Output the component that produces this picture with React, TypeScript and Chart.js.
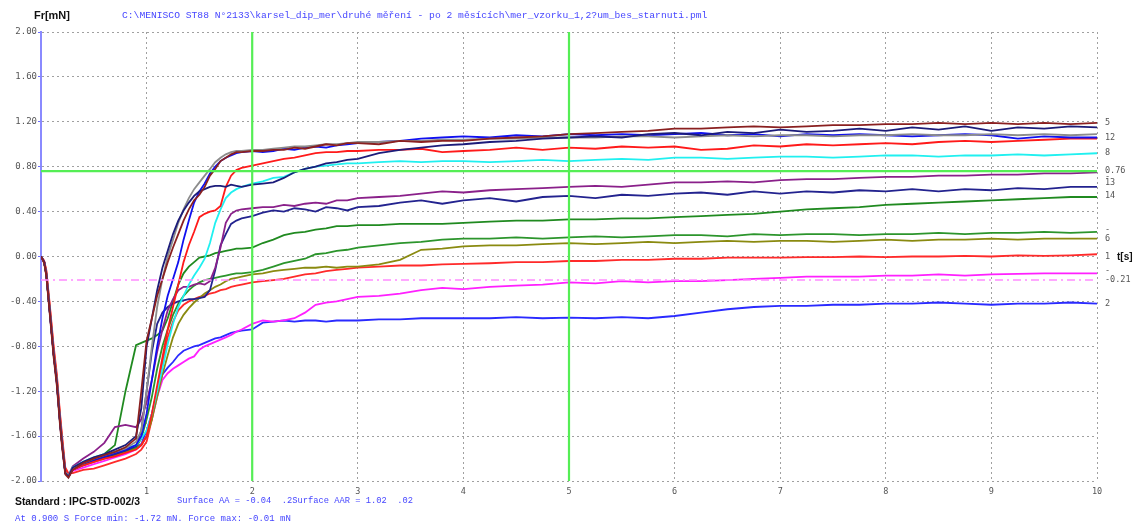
import React, { useEffect, useRef } from "react";
import { Chart, registerables } from "chart.js";

Chart.register(...registerables);

// ---------- data ----------
const T = [
  0, 0.03, 0.05, 0.08, 0.12, 0.15, 0.18, 0.2, 0.23, 0.26, 0.3,
  0.4, 0.5, 0.6, 0.7, 0.8, 0.9, 0.95,
  1.0, 1.05, 1.1, 1.15, 1.2, 1.25, 1.3, 1.35, 1.4, 1.45,
  1.5, 1.55, 1.6, 1.65, 1.7, 1.75, 1.8, 1.85, 1.9, 2.0,
  2.1, 2.2, 2.3, 2.4, 2.5, 2.6, 2.7, 2.8, 2.9, 3.0,
  3.2, 3.4, 3.6, 3.8, 4.0, 4.25, 4.5, 4.75, 5.0,
  5.25, 5.5, 5.75, 6.0, 6.25, 6.5, 6.75, 7.0, 7.25, 7.5,
  7.75, 8.0, 8.25, 8.5, 8.75, 9.0, 9.25, 9.5, 9.75, 10,
];

const s5 = [
  0, -0.06, -0.17, -0.48, -0.9, -1.15, -1.5, -1.7, -1.94, -1.97, -1.9,
  -1.84, -1.8, -1.77, -1.74, -1.7, -1.62, -1.2,
  -0.75, -0.55, -0.35, -0.2, -0.05, 0.08, 0.2, 0.32, 0.42, 0.5,
  0.55, 0.62, 0.72, 0.78, 0.85, 0.88, 0.91, 0.93, 0.93, 0.94,
  0.94, 0.95, 0.95, 0.97, 0.96, 0.98, 1.0, 0.99, 1.01, 1.01,
  1.0, 1.03, 1.02, 1.03, 1.03, 1.05, 1.06, 1.07, 1.09,
  1.1, 1.11, 1.12, 1.14, 1.14, 1.15, 1.16, 1.15, 1.16, 1.17,
  1.17, 1.18, 1.18, 1.19, 1.18, 1.19, 1.18, 1.19, 1.18, 1.19,
];

const s3 = [
  0, -0.05, -0.16, -0.46, -0.88, -1.12, -1.48, -1.68, -1.93, -1.96, -1.88,
  -1.83, -1.79, -1.76, -1.72, -1.68, -1.6, -1.35,
  -0.8, -0.55, -0.3, -0.1, 0.05, 0.2, 0.32, 0.41, 0.48, 0.54,
  0.58, 0.6, 0.62, 0.63, 0.63, 0.62, 0.64, 0.63, 0.62, 0.64,
  0.65, 0.66, 0.7, 0.75, 0.78, 0.8, 0.83, 0.84, 0.86, 0.87,
  0.92, 0.95, 0.97, 0.99, 1.0, 1.02, 1.03, 1.05, 1.06,
  1.07, 1.06, 1.09, 1.1, 1.08, 1.11, 1.1, 1.13, 1.11, 1.12,
  1.14, 1.12, 1.15, 1.13, 1.16, 1.12, 1.15, 1.14, 1.16, 1.15,
];

const s9 = [
  0, -0.05, -0.15, -0.44, -0.86, -1.1, -1.46, -1.66, -1.92, -1.95, -1.89,
  -1.84, -1.8, -1.77, -1.74, -1.71, -1.65, -1.55,
  -1.2, -0.8, -0.45, -0.2, 0.0, 0.15, 0.3, 0.42, 0.52, 0.6,
  0.66, 0.72, 0.78, 0.84, 0.88, 0.91, 0.93, 0.94, 0.94, 0.95,
  0.95, 0.96, 0.97, 0.98, 0.98, 0.99, 1.0, 1.0, 1.01, 1.02,
  1.02, 1.03, 1.03, 1.04, 1.04, 1.05, 1.05, 1.06, 1.06,
  1.06, 1.07, 1.07, 1.06, 1.07, 1.08, 1.07, 1.08, 1.08, 1.07,
  1.08, 1.08, 1.09, 1.08, 1.08, 1.09, 1.08, 1.09, 1.08, 1.09,
];

const s12 = [
  0, -0.05, -0.16, -0.46, -0.87, -1.13, -1.47, -1.67, -1.93, -1.96, -1.89,
  -1.84, -1.81, -1.78, -1.75, -1.72, -1.68, -1.6,
  -1.4, -1.1, -0.8, -0.55, -0.35, -0.2, -0.05, 0.15, 0.32, 0.48,
  0.58, 0.65, 0.74, 0.8, 0.85, 0.88, 0.9, 0.92, 0.93, 0.94,
  0.93, 0.94, 0.96, 0.95, 0.97, 0.98, 0.97, 0.99, 1.0, 1.01,
  1.02, 1.03, 1.05, 1.06, 1.07, 1.06, 1.08, 1.07, 1.09,
  1.08, 1.09, 1.08, 1.09, 1.1, 1.08, 1.09, 1.07, 1.09, 1.08,
  1.09, 1.08, 1.07, 1.08, 1.09, 1.08, 1.05, 1.07, 1.06, 1.06,
];

const s11 = [
  0, -0.04, -0.13, -0.42, -0.83, -1.08, -1.42, -1.63, -1.9, -1.95, -1.9,
  -1.86, -1.83, -1.8, -1.78, -1.75, -1.72, -1.68,
  -1.6, -1.4, -1.15, -0.9, -0.65, -0.45, -0.25, -0.05, 0.1, 0.22,
  0.35, 0.38, 0.4, 0.41, 0.45, 0.62, 0.72, 0.77, 0.79, 0.81,
  0.83, 0.85, 0.87, 0.88, 0.9, 0.92, 0.93, 0.93, 0.94, 0.94,
  0.95, 0.95, 0.96, 0.93, 0.94, 0.95, 0.97, 0.95, 0.97,
  0.96, 0.98, 0.97, 0.98, 0.95, 0.96, 0.99, 0.98, 1.0, 0.99,
  1.0, 1.01, 1.0, 1.02, 1.03, 1.02, 1.03, 1.04, 1.05, 1.05,
];

const s8 = [
  0, -0.05, -0.15, -0.45, -0.86, -1.11, -1.46, -1.66, -1.92, -1.95, -1.88,
  -1.83, -1.79, -1.76, -1.74, -1.71, -1.68, -1.62,
  -1.55, -1.4, -1.2, -1.0, -0.78, -0.6, -0.45, -0.35, -0.25, -0.17,
  -0.1, -0.02, 0.12, 0.3, 0.42, 0.52, 0.57, 0.6, 0.62, 0.65,
  0.67, 0.7, 0.71, 0.75, 0.78, 0.8, 0.81, 0.82, 0.83, 0.83,
  0.84, 0.85, 0.84, 0.85, 0.85, 0.84, 0.85, 0.86, 0.85,
  0.86, 0.87, 0.86, 0.88, 0.88, 0.87, 0.88, 0.89, 0.89, 0.88,
  0.89, 0.9, 0.9, 0.89, 0.9, 0.9, 0.91, 0.9, 0.91, 0.92,
];

const s10 = [
  0, -0.05, -0.16, -0.46, -0.87, -1.12, -1.47, -1.67, -1.92, -1.95, -1.87,
  -1.8, -1.74, -1.66, -1.52, -1.5, -1.52, -1.45,
  -1.3, -1.1, -0.85, -0.65, -0.48, -0.38, -0.3, -0.27, -0.27, -0.25,
  -0.24, -0.25, -0.22, -0.1, 0.08, 0.3, 0.38, 0.41, 0.42, 0.43,
  0.44, 0.44, 0.46, 0.45, 0.47, 0.48, 0.47, 0.5, 0.5, 0.52,
  0.53, 0.54, 0.56, 0.58, 0.57, 0.59, 0.6, 0.61, 0.62,
  0.63, 0.62, 0.64, 0.66, 0.66, 0.67, 0.66, 0.68, 0.69, 0.69,
  0.7, 0.71, 0.71, 0.72, 0.72, 0.73, 0.73, 0.74, 0.74, 0.75,
];

const s13 = [
  0, -0.05, -0.15, -0.46, -0.87, -1.12, -1.47, -1.67, -1.93, -1.96, -1.9,
  -1.86, -1.82, -1.79, -1.76, -1.73, -1.69, -1.55,
  -1.2, -0.85, -0.6, -0.5, -0.45, -0.42, -0.4, -0.39, -0.38, -0.38,
  -0.37, -0.36, -0.3, -0.12, 0.1, 0.2, 0.29, 0.32, 0.34, 0.36,
  0.39, 0.41, 0.4, 0.43, 0.42, 0.4, 0.44, 0.43, 0.41, 0.44,
  0.45, 0.48, 0.5, 0.47, 0.5, 0.52, 0.49, 0.53, 0.54,
  0.52, 0.55, 0.54, 0.56, 0.57, 0.55, 0.58, 0.56, 0.58, 0.57,
  0.59, 0.58, 0.6, 0.58, 0.6, 0.59, 0.61, 0.6, 0.62, 0.62,
];

const s14 = [
  0, -0.05, -0.15, -0.45, -0.86, -1.11, -1.46, -1.66, -1.92, -1.96, -1.89,
  -1.84, -1.8, -1.76, -1.68, -1.2, -0.79, -0.77,
  -0.75, -0.73, -0.7, -0.66, -0.55, -0.4, -0.25, -0.15, -0.09, -0.05,
  -0.01, 0.0, 0.01, 0.03, 0.04, 0.05, 0.06, 0.07, 0.07, 0.08,
  0.12, 0.15, 0.19, 0.21, 0.22, 0.24, 0.25, 0.27, 0.27, 0.28,
  0.28, 0.29, 0.29, 0.29, 0.3, 0.31, 0.32, 0.32, 0.33,
  0.33, 0.34, 0.34, 0.35, 0.36, 0.37, 0.38, 0.4, 0.42, 0.43,
  0.44, 0.46, 0.47, 0.48, 0.49, 0.5, 0.51, 0.52, 0.53, 0.53,
];

const s4 = [
  0, -0.05, -0.15, -0.45, -0.86, -1.1, -1.45, -1.65, -1.92, -1.96, -1.9,
  -1.85, -1.82, -1.79, -1.76, -1.73, -1.7, -1.62,
  -1.45, -1.25, -1.0, -0.8, -0.65, -0.52, -0.42, -0.35, -0.3, -0.26,
  -0.23, -0.21, -0.2, -0.19, -0.18, -0.17, -0.16, -0.15, -0.15, -0.14,
  -0.12, -0.09, -0.06, -0.04, -0.02, 0.02, 0.03, 0.05, 0.06, 0.08,
  0.1, 0.12, 0.13, 0.15, 0.16, 0.16, 0.17, 0.16, 0.17,
  0.18, 0.17, 0.18, 0.19, 0.19, 0.18, 0.2, 0.19, 0.2, 0.2,
  0.19, 0.2, 0.2, 0.21, 0.2, 0.21, 0.21, 0.22, 0.21, 0.22,
];

const s6 = [
  0, -0.05, -0.16, -0.46, -0.87, -1.12, -1.47, -1.67, -1.93, -1.96, -1.9,
  -1.86, -1.83, -1.8, -1.77, -1.74, -1.71, -1.68,
  -1.6, -1.45, -1.25, -1.05, -0.88, -0.72, -0.6, -0.52, -0.46, -0.41,
  -0.37, -0.33, -0.3, -0.27, -0.25, -0.22, -0.2, -0.19, -0.18, -0.16,
  -0.15, -0.13, -0.12, -0.11, -0.1, -0.1, -0.09, -0.1, -0.09, -0.09,
  -0.07, -0.03, 0.06, 0.07, 0.09, 0.1, 0.1, 0.11, 0.12,
  0.11, 0.12, 0.13, 0.12, 0.13, 0.14, 0.13, 0.14, 0.14, 0.13,
  0.14, 0.15, 0.14, 0.15, 0.15, 0.16, 0.15, 0.16, 0.16, 0.16,
];

const s1 = [
  0, -0.04, -0.12, -0.4, -0.8, -1.05, -1.4, -1.6, -1.88, -1.93, -1.93,
  -1.9, -1.89, -1.86, -1.83, -1.8, -1.76, -1.72,
  -1.65, -1.45, -1.2, -0.95, -0.72, -0.58, -0.48, -0.43, -0.4, -0.38,
  -0.36, -0.35, -0.33, -0.32, -0.3, -0.29, -0.27, -0.26, -0.25, -0.23,
  -0.22, -0.21, -0.2, -0.18, -0.16, -0.15, -0.13, -0.12, -0.11, -0.1,
  -0.09, -0.08, -0.08, -0.07, -0.065, -0.06, -0.05, -0.05, -0.04,
  -0.04, -0.03, -0.03, -0.02, -0.02, -0.01, -0.01, -0.01, -0.005, -0.005,
  0.0, -0.005, 0.0, 0.0, 0.005, 0.0, 0.01, 0.005, 0.01, 0.02,
];

const s7 = [
  0, -0.05, -0.15, -0.45, -0.86, -1.1, -1.46, -1.66, -1.92, -1.96, -1.91,
  -1.88, -1.85, -1.82, -1.79, -1.76, -1.72, -1.68,
  -1.6, -1.45, -1.25, -1.1, -1.04, -1.0, -0.97, -0.94, -0.91, -0.89,
  -0.83, -0.8, -0.78, -0.76, -0.74, -0.72, -0.7, -0.67, -0.65, -0.6,
  -0.57, -0.58, -0.57, -0.55, -0.5, -0.43, -0.41, -0.4, -0.38, -0.36,
  -0.35, -0.33, -0.3, -0.28, -0.29, -0.27, -0.26, -0.25, -0.23,
  -0.24, -0.22, -0.23, -0.22, -0.22, -0.21, -0.2, -0.19, -0.18, -0.18,
  -0.18, -0.17, -0.17, -0.16, -0.17, -0.16, -0.155, -0.15, -0.15, -0.15,
];

const s2 = [
  0, -0.05, -0.15, -0.45, -0.86, -1.11, -1.46, -1.66, -1.92, -1.96, -1.9,
  -1.85, -1.81, -1.78, -1.76, -1.73, -1.7, -1.67,
  -1.55, -1.4, -1.2, -1.05, -0.99, -0.94, -0.88, -0.84, -0.82, -0.8,
  -0.79, -0.77, -0.75, -0.73, -0.72, -0.7, -0.68, -0.67, -0.66, -0.65,
  -0.59, -0.58, -0.57, -0.58, -0.57, -0.57, -0.58, -0.57, -0.57, -0.57,
  -0.56, -0.56, -0.55, -0.55, -0.55, -0.55, -0.54, -0.55, -0.545,
  -0.55, -0.54, -0.55, -0.53, -0.5, -0.47, -0.45, -0.44, -0.44, -0.43,
  -0.43, -0.42, -0.42, -0.41, -0.42, -0.43, -0.42, -0.42, -0.41, -0.42,
];

const SERIES_VALUES = [s5, s3, s9, s12, s11, s8, s10, s13, s14, s4, s6, s1, s7, s2];
const SERIES_COLORS = [
  "#8a2020", "#1c1c7a", "#8c8c8c", "#1010f0", "#ff1a1a", "#20f0f0", "#8a208a",
  "#23238f", "#208a20", "#2c952c", "#8a8a10", "#ff2a2a", "#ff20ff", "#2a2aff",
];

const LIMIT_VALUE = 0.76;
const LIMIT_TIMES = [2, 5];
const REFERENCE_VALUE = -0.21;

const Y_TICK_MIN = -2;
const Y_TICK_MAX = 2;
const Y_TICK_STEP = 0.4;
const X_TICK_MIN = 0;
const X_TICK_MAX = 10;

const RIGHT_LABELS = ["5", "12", "8", "0.76", "-", "13", "14", "-", "6", "1", "-", "-0.21", "2"];
const RIGHT_LABEL_VALUES = [1.19, 1.06, 0.92, 0.76, 0.71, 0.66, 0.54, 0.24, 0.16, 0.0, -0.13, -0.21, -0.42];

const Y_TITLE = "Fr[mN]";
const X_TITLE = "t[s]";
const FILE_PATH = "C:\\MENISCO ST88 N°2133\\karsel_dip_mer\\druhé měření - po 2 měsících\\mer_vzorku_1,2?um_bes_starnuti.pml";
const STANDARD_TEXT = "Standard : IPC-STD-002/3";
const SURFACE_TEXT = "Surface AA = -0.04  .2Surface AAR = 1.02  .02";
const FORCE_TEXT = "At 0.900 S Force min: -1.72 mN. Force max: -0.01 mN";

// ---------- drawing helpers ----------
function drawFit(ctx: CanvasRenderingContext2D, text: string, x: number, y: number, width: number, family: string, weight: string, color: string) {
  ctx.font = `${weight} 10px ${family}`;
  const w = ctx.measureText(text).width;
  const size = (10 * width) / w;
  ctx.font = `${weight} ${size.toFixed(2)}px ${family}`;
  ctx.fillStyle = color;
  ctx.fillText(text, x, y);
}

const textPlugin = {
  id: "texts",
  afterDraw(chart: any) {
    const ctx: CanvasRenderingContext2D = chart.ctx;
    const ys = chart.scales.y;
    const area = chart.chartArea;
    ctx.save();
    ctx.textBaseline = "middle";
    ctx.textAlign = "left";
    const mono = '"Liberation Mono", "DejaVu Sans Mono", monospace';
    const sans = '"Liberation Sans", Arial, sans-serif';
    drawFit(ctx, Y_TITLE, 34, 16, 36, sans, "bold", "#111");
    drawFit(ctx, FILE_PATH, 122, 15, 586, mono, "normal", "#4646ff");
    drawFit(ctx, STANDARD_TEXT, 15, 502, 125, sans, "bold", "#111");
    drawFit(ctx, SURFACE_TEXT, 177, 501, 236, mono, "normal", "#4646ff");
    drawFit(ctx, FORCE_TEXT, 15, 519, 276, mono, "normal", "#4646ff");

    ctx.font = '8.5px "DejaVu Sans Mono", monospace';
    ctx.fillStyle = "#555";
    RIGHT_LABELS.forEach((lab, i) => {
      const py = ys.getPixelForValue(RIGHT_LABEL_VALUES[i]);
      ctx.fillText(lab, area.right + 8, py);
    });
    ctx.font = `bold 10px ${sans}`;
    ctx.fillStyle = "#111";
    ctx.fillText(X_TITLE, area.right + 20, ys.getPixelForValue(0) + 1);
    ctx.restore();
  },
};

export default function App() {
  const ref = useRef<HTMLCanvasElement | null>(null);

  useEffect(() => {
    if (!ref.current) return;
    const curves = SERIES_VALUES.map((vals, k) => ({
      data: T.slice(0, Math.min(T.length, vals.length)).map((t, i) => ({ x: t, y: vals[i] })),
      borderColor: SERIES_COLORS[k],
      borderWidth: 1.8,
      pointRadius: 0,
      tension: 0,
      fill: false,
    }));
    const refs: any[] = [
      {
        data: [{ x: X_TICK_MIN, y: LIMIT_VALUE }, { x: X_TICK_MAX, y: LIMIT_VALUE }],
        borderColor: "#55ee55",
        borderWidth: 2.2,
        pointRadius: 0,
      },
      ...LIMIT_TIMES.map((t) => ({
        data: [{ x: t, y: Y_TICK_MIN }, { x: t, y: Y_TICK_MAX }],
        borderColor: "#55ee55",
        borderWidth: 2.2,
        pointRadius: 0,
      })),
      {
        data: [{ x: X_TICK_MIN, y: REFERENCE_VALUE }, { x: X_TICK_MAX, y: REFERENCE_VALUE }],
        borderColor: "#ff8cff",
        borderWidth: 1.6,
        borderDash: [8, 4, 2, 4],
        pointRadius: 0,
      },
    ];
    const chart = new Chart(ref.current, {
      type: "line",
      data: { datasets: [...refs, ...curves] },
      plugins: [textPlugin],
      options: {
        responsive: false,
        maintainAspectRatio: false,
        animation: false,
        devicePixelRatio: 1,
        layout: { padding: { left: 0, top: 32, right: 37, bottom: 0 } },
        plugins: { legend: { display: false }, tooltip: { enabled: false } },
        scales: {
          x: {
            type: "linear",
            min: X_TICK_MIN,
            max: X_TICK_MAX,
            afterFit: (s: any) => { s.height = 47; },
            ticks: {
              stepSize: 1,
              padding: 6,
              maxRotation: 0,
              color: "#555",
              font: { family: '"DejaVu Sans Mono", monospace', size: 8.5 },
              callback: (v: any) => (v === 0 ? "" : String(v)),
            },
            grid: { color: "#a0a0a0", lineWidth: 1, drawTicks: false },
            border: { display: false, dash: [2, 3] },
          },
          y: {
            type: "linear",
            min: Y_TICK_MIN,
            max: Y_TICK_MAX,
            afterFit: (s: any) => { s.width = 41; },
            ticks: {
              stepSize: Y_TICK_STEP,
              padding: 1,
              color: "#555",
              font: { family: '"DejaVu Sans Mono", monospace', size: 9 },
              callback: (v: any) => Number(v).toFixed(2),
            },
            grid: { color: "#a0a0a0", lineWidth: 1, tickColor: "#6a6aff", tickLength: 3 },
            border: { display: true, color: "#8a8aff", width: 2, dash: [2, 3] },
          },
        },
      },
    } as any);
    return () => chart.destroy();
  }, []);

  return (
    <div style={{ position: "absolute", left: 0, top: 0, width: 1134, height: 528, background: "#fff" }}>
      <canvas ref={ref} width={1134} height={528} style={{ display: "block" }} />
    </div>
  );
}
